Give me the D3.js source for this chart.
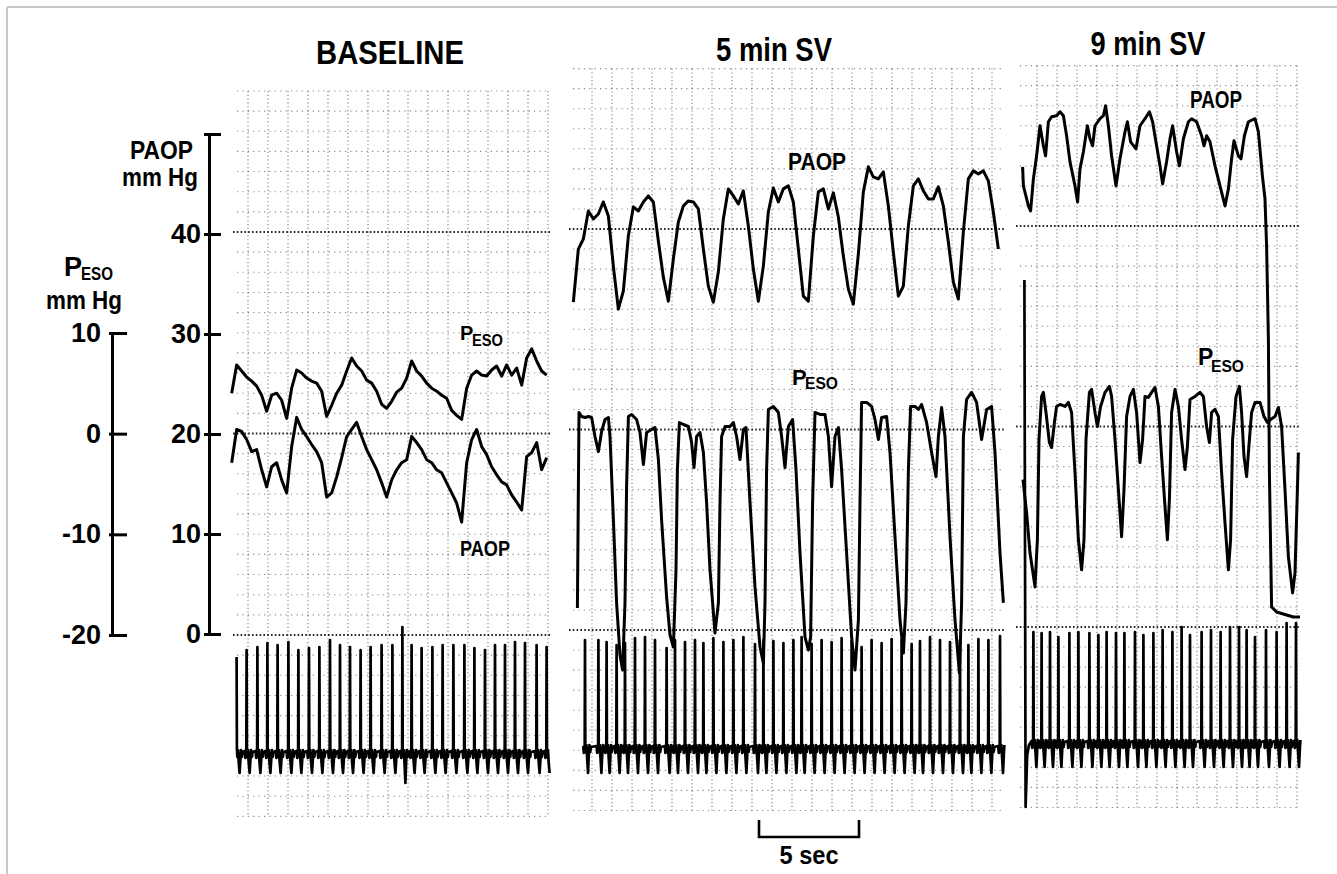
<!DOCTYPE html>
<html>
<head>
<meta charset="utf-8">
<script src="https://cdn.jsdelivr.net/npm/d3@7"></script>
<style>
  html, body { margin: 0; padding: 0; background: #fff; }
  svg { display: block; }
  text { font-family: "Liberation Sans", Arial, Helvetica, sans-serif; fill: #000; font-weight: 700; }
</style>
</head>
<body>
<svg id="chart" width="1337" height="874"></svg>
<script>
// ---------------- data ----------------
const panelTitles = ["BASELINE", "5 min SV", "9 min SV"];
const paopTicks = [0, 10, 20, 30, 40, 50];
const paopLabels = [0, 10, 20, 30, 40];
const pesoTicks = [-20, -10, 0, 10];
const refLevels = [0, 20, 40];          // dotted reference lines, PAOP mm Hg
const scaleBarSec = 5;

// Baseline: sampled every 0.25 s from t = 0.083 s
const baselineStart = 0.083;
const sampleStep = 0.25;
const baselinePeso = [4.0, 6.8, 6.2, 5.6, 5.2, 4.7, 3.8, 2.2, 3.8, 4.0, 3.3, 1.5, 4.5, 6.3, 6.0, 5.5,
  5.2, 5.0, 4.2, 1.7, 2.8, 4.0, 4.8, 6.2, 7.5, 6.7, 6.2, 5.3, 5.0, 4.2, 2.9, 2.5,
  3.2, 4.1, 4.5, 5.5, 7.2, 6.2, 5.7, 5.0, 4.5, 4.2, 3.8, 3.5, 2.3, 1.8, 1.4, 4.5,
  5.8, 6.2, 5.8, 5.7, 6.3, 6.7, 5.7, 6.8, 5.8, 6.5, 4.8, 7.5, 8.4, 7.2, 6.2, 5.8];
const baselinePaop = [17.1, 20.4, 20.2, 19.4, 18.2, 18.4, 16.4, 14.7, 16.7, 17.1, 15.4, 14.1, 18.7, 21.6, 20.4, 19.7,
  18.9, 18.2, 17.1, 13.7, 14.1, 15.7, 17.6, 19.7, 20.4, 21.1, 19.7, 18.4, 17.4, 16.4, 15.1, 13.7,
  15.4, 16.4, 17.1, 17.4, 19.7, 19.1, 18.4, 17.4, 17.1, 16.4, 16.1, 15.1, 14.1, 13.1, 11.2, 17.1,
  19.4, 20.4, 18.7, 17.9, 16.7, 15.9, 15.2, 14.9, 13.9, 13.2, 12.4, 17.7, 18.1, 19.1, 16.4, 17.6];

// 5 min SV: PAOP sampled every 0.25 s from t = 0.167 s
const sv5PaopStart = 0.167;
const sv5Paop = [32.7, 38.0, 39.0, 41.8, 41.0, 41.5, 42.7, 41.3, 36.3, 32.0,
  33.8, 39.3, 42.2, 41.8, 42.7, 43.3, 42.7, 38.8, 35.2, 32.8,
  37.0, 40.7, 42.3, 42.8, 42.7, 42.0, 38.0, 34.3, 32.7, 35.7,
  41.0, 44.0, 43.3, 42.5, 43.8, 40.3, 36.0, 32.8, 36.3, 41.7,
  44.1, 42.7, 44.0, 44.3, 42.7, 38.0, 33.3, 32.8, 39.3, 43.7,
  44.0, 42.0, 43.6, 41.2, 37.3, 34.0, 32.5, 37.5, 43.7, 46.2,
  45.2, 45.0, 45.7, 42.3, 37.7, 33.3, 34.3, 40.3, 44.3, 45.0,
  43.8, 43.0, 43.0, 44.2, 42.3, 38.7, 34.7, 33.0, 39.7, 45.0,
  45.8, 45.5, 45.8, 44.8, 41.7, 38.0];

// 5 min SV: esophageal pressure, [seconds, mm Hg]
const sv5Peso = [[0.37,-17.8],[0.45,1.7],[0.58,1.3],[0.75,1.2],[0.92,1.3],[1.08,1.2],[1.25,-0.7],[1.42,-2.2],[1.58,-0.2],[1.75,1.0],
  [1.92,1.2],[2.00,-0.7],[2.17,-9.0],[2.33,-17.3],[2.50,-22.5],[2.63,-24.0],[2.75,-17.3],[2.83,-5.7],[2.92,1.3],[3.08,1.5],
  [3.33,1.0],[3.50,-0.3],[3.67,-3.5],[3.83,-0.3],[4.08,0.0],[4.25,0.2],[4.42,-3.0],[4.58,-9.0],[4.83,-16.7],[5.00,-20.5],
  [5.17,-21.7],[5.30,-14.0],[5.37,-4.0],[5.47,0.7],[5.67,0.5],[5.92,0.3],[6.08,-1.3],[6.20,-3.8],[6.33,-0.7],[6.50,-0.3],
  [6.67,-2.3],[6.83,-7.3],[7.00,-14.0],[7.25,-20.3],[7.42,-17.3],[7.50,-7.3],[7.58,-0.7],[7.75,0.3],[8.00,0.3],[8.17,0.7],
  [8.33,-0.7],[8.50,-3.0],[8.67,0.0],[8.80,0.2],[9.00,-7.3],[9.25,-15.7],[9.50,-21.7],[9.67,-23.3],[9.75,-17.3],[9.83,-4.0],
  [9.92,2.0],[10.17,2.3],[10.42,1.7],[10.58,-0.7],[10.75,-3.8],[10.92,0.3],[11.13,1.0],[11.30,-4.0],[11.50,-12.3],[11.75,-20.7],
  [11.92,-22.0],[12.03,-20.7],[12.13,-7.3],[12.25,1.7],[12.50,1.5],[12.75,1.5],[12.92,-0.7],[13.08,-5.7],[13.25,-0.7],[13.42,0.2],
  [13.58,-4.0],[13.83,-12.3],[14.08,-20.7],[14.25,-24.0],[14.42,-19.0],[14.50,-7.3],[14.58,2.7],[14.83,2.7],[15.08,2.3],[15.25,1.0],
  [15.42,-1.0],[15.58,1.2],[15.83,1.3],[16.00,-2.3],[16.25,-10.7],[16.50,-19.0],[16.67,-22.3],[16.80,-17.3],[16.92,-4.0],[17.03,2.3],
  [17.25,2.3],[17.42,2.0],[17.58,2.5],[17.83,0.7],[18.08,-2.3],[18.30,-4.7],[18.42,-0.7],[18.58,2.2],[18.75,-0.7],[19.00,-10.7],
  [19.25,-19.0],[19.47,-24.3],[19.58,-17.3],[19.67,-0.7],[19.83,3.0],[20.08,3.7],[20.33,2.7],[20.58,-1.0],[20.83,2.0],[21.08,2.3],
  [21.25,-2.3],[21.50,-12.3],[21.67,-17.3]];

// 9 min SV: wedge pressure, [seconds, mm Hg]
const sv9Paop = [[0.63,45.9],[0.67,44.0],[0.92,42.0],[1.03,41.5],[1.17,44.7],[1.33,47.0],[1.50,50.0],[1.67,48.0],[1.78,47.0],[1.92,50.4],
  [2.08,50.9],[2.33,51.0],[2.50,51.4],[2.67,51.0],[2.83,49.0],[3.00,46.4],[3.25,44.0],[3.38,42.4],[3.50,45.7],[3.67,47.4],
  [3.87,50.0],[4.00,48.7],[4.13,48.0],[4.25,50.0],[4.50,50.7],[4.67,51.0],[4.78,52.0],[4.92,50.0],[5.08,47.0],[5.30,44.0],
  [5.50,46.7],[5.75,49.4],[5.87,50.4],[6.03,48.4],[6.30,47.7],[6.50,50.0],[6.75,50.7],[6.97,51.4],[7.13,50.4],[7.33,48.0],
  [7.50,46.0],[7.63,44.2],[7.83,46.4],[8.00,48.7],[8.13,50.0],[8.33,47.4],[8.47,46.0],[8.67,48.7],[8.92,50.4],[9.08,50.7],
  [9.33,50.4],[9.58,49.0],[9.70,48.0],[9.83,49.0],[10.00,48.4],[10.25,46.0],[10.50,44.0],[10.75,42.0],[10.92,43.7],[11.08,46.7],
  [11.20,48.5],[11.42,47.0],[11.55,46.7],[11.72,49.0],[11.92,50.4],[12.25,50.7],[12.42,49.4],[12.62,45.0],[12.75,42.7],[12.83,38.0],
  [12.92,28.7],[12.97,15.4],[13.08,2.0],[13.33,1.5],[13.83,1.2],[14.17,1.0],[14.50,1.0]];

// 9 min SV: esophageal pressure, [seconds, mm Hg]
const sv9Peso = [[0.65,-5.3],[0.83,-8.6],[1.00,-12.6],[1.25,-16.0],[1.37,-11.3],[1.45,-1.3],[1.58,3.0],[1.67,3.4],[1.80,1.4],[1.97,-1.6],
  [2.08,-2.1],[2.22,0.4],[2.33,2.0],[2.50,2.2],[2.75,2.0],[2.92,2.4],[3.08,1.4],[3.25,-4.6],[3.42,-11.3],[3.58,-14.3],
  [3.70,-11.3],[3.80,-1.3],[3.97,3.4],[4.08,3.7],[4.25,1.4],[4.37,0.0],[4.53,2.0],[4.75,3.4],[4.97,4.0],[5.08,3.0],
  [5.25,-1.3],[5.42,-6.3],[5.58,-11.0],[5.70,-6.3],[5.83,1.0],[6.00,3.0],[6.17,3.7],[6.33,1.4],[6.50,-3.6],[6.63,-1.3],
  [6.75,3.0],[6.92,2.9],[7.08,3.4],[7.25,3.9],[7.42,2.0],[7.58,-3.0],[7.75,-8.0],[7.87,-11.3],[7.97,-7.3],[8.08,1.4],
  [8.25,3.7],[8.42,2.0],[8.58,-1.3],[8.75,-4.3],[8.87,-2.0],[9.00,2.7],[9.25,3.0],[9.50,3.4],[9.67,3.0],[9.83,0.0],
  [9.97,-1.6],[10.08,1.4],[10.25,1.7],[10.42,1.0],[10.58,-4.6],[10.75,-9.6],[10.92,-14.3],[11.03,-11.3],[11.13,-1.3],[11.30,3.0],
  [11.47,4.0],[11.58,1.4],[11.70,-3.0],[11.83,-5.0],[11.97,-1.3],[12.08,1.4],[12.25,2.4],[12.50,2.4],[12.70,1.0],[12.87,0.4],
  [13.03,0.7],[13.25,1.0],[13.42,1.9],[13.58,0.0],[13.75,-6.3],[13.92,-13.0],[14.13,-16.6],[14.25,-14.6],[14.37,-6.3],[14.42,-2.6]];

// ECG beats: [R-wave time s, R amplitude, optional S depth]
const baselineBeats = [[0.33,9.8],[0.83,10.5],[1.37,10.8],[1.87,11.2],[2.38,11.0],[2.92,11.3],[3.42,10.5],[3.95,10.7],
  [4.47,10.8],[5.00,11.5],[5.50,11.0],[6.00,10.8],[6.53,10.5],[7.03,10.8],[7.58,11.0],[8.12,11.0],[8.62,12.8,-2.8],
  [9.08,11.0],[9.58,10.7],[10.12,10.8],[10.63,11.0],[11.17,11.0],[11.72,11.0],[12.22,10.7],[12.75,10.5],[13.25,11.0],
  [13.75,11.0],[14.25,11.3],[14.75,11.2],[15.33,11.0],[15.83,10.8]];
const sv5Beats = [[0.75,11.0],[1.42,11.0],[1.83,10.8],[2.33,10.5],[2.75,10.7],[3.25,11.2],[3.75,11.3],[4.25,11.0],
  [4.83,10.2],[5.25,11.0],[5.75,10.8],[6.25,11.0],[6.67,10.7],[7.17,11.2],[7.67,10.8],[8.17,11.0],[8.67,11.3],
  [9.25,10.6],[9.67,11.0],[10.17,10.9],[10.67,10.7],[11.17,11.0],[11.58,11.3],[12.08,10.6],[12.58,11.0],[13.08,10.8],
  [13.58,11.2],[14.08,10.9],[14.58,10.3],[15.08,11.0],[15.58,10.7],[16.08,11.1],[16.58,11.0],[17.08,10.6],[17.50,10.9],
  [18.00,11.3],[18.50,11.0],[19.00,10.8],[19.50,11.0],[19.92,10.5],[20.42,11.1],[20.92,11.0],[21.50,11.4]];
const sv9Beats = [[1.17,11.3],[1.58,11.2],[2.00,11.3],[2.42,10.8],[2.97,11.2],[3.42,11.3],[3.97,11.2],[4.42,11.0],
  [4.83,11.3],[5.30,11.2],[5.72,11.2],[6.25,11.3],[6.67,11.0],[7.17,11.2],[7.63,11.5],[8.12,11.3],[8.58,11.8],
  [9.00,11.0],[9.58,11.3],[10.05,11.5],[10.53,11.3],[11.00,11.8],[11.45,11.8],[11.83,11.5],[12.25,10.8],[12.80,11.5],
  [13.33,11.3],[13.83,12.2],[14.30,12.2]];
// pen stroke at the start of the 9 min strip
const sv9EcgLead = [[0.72,46.5],[0.78,-6.2],[0.86,-1.0],[0.95,0.0]];

// one ECG complex around its R wave: [offset s, amplitude]
const ecgBefore = [[-0.09, 0.4], [-0.06, -0.3], [-0.035, 0.4], [-0.015, 0.0]];
const ecgAfter = [[0.015, 0.6], [0.04, -0.2], [0.07, 0.5], [0.10, -0.6]];
const ecgSOffset = 0.15;
const ecgTail = [[0.19, -0.5], [0.22, 0.5], [0.26, -0.2], [0.30, 0.3]];

// ---------------- layout ----------------
const panels = [
  { title: panelTitles[0], titleX: 390, titleY: 64, titleW: 148,
    xDomain: [0, 16], xRange: [230, 550], yRange: [635, 232], ecgBase: 755,
    gridT: [0.35, 16.0], gridFirst: 0.9, gridV: [-18, 54],
    peso: baselinePeso.map((v, i) => [baselineStart + i * sampleStep, v]),
    paop: baselinePaop.map((v, i) => [baselineStart + i * sampleStep, v]),
    beats: baselineBeats, sDepth: -1.8, lead: null, ecgT: [0.33, 16.0],
    labels: { pesoP: [460, 340, 20], pesoSub: [472, 346, 16, 31], paop: [460, 556, 22, 50] } },
  { title: panelTitles[1], titleX: 774, titleY: 61, titleW: 116,
    xDomain: [0, 22], xRange: [570, 1010], yRange: [630, 229], ecgBase: 750,
    gridT: [0.15, 21.75], gridFirst: 1.1, gridV: [-18, 56],
    peso: sv5Peso,
    paop: sv5Paop.map((v, i) => [sv5PaopStart + i * sampleStep, v]),
    beats: sv5Beats, sDepth: -2.3, lead: null, ecgT: [0.5, 21.75],
    labels: { pesoP: [792, 385, 22], pesoSub: [805, 389, 16, 33], paop: [788, 170, 23, 58] } },
  { title: panelTitles[2], titleX: 1148, titleY: 55, titleW: 115,
    xDomain: [0, 15], xRange: [1010, 1310], yRange: [627, 226], ecgBase: 745,
    gridT: [0.5, 14.5], gridFirst: 1.35, gridV: [-18, 56],
    peso: sv9Peso, paop: sv9Paop,
    beats: sv9Beats, sDepth: -2.2, lead: sv9EcgLead, ecgT: [0.7, 14.55],
    labels: { pesoP: [1198, 365, 23], pesoSub: [1211, 372, 17, 33], paop: [1190, 108, 24, 52] } }
];

const svg = d3.select("#chart");

// page edge
svg.append("line").attr("x1", 7).attr("x2", 1337).attr("y1", 7).attr("y2", 7)
  .attr("stroke", "#c8c8c8").attr("stroke-width", 2);
svg.append("line").attr("x1", 7).attr("x2", 7).attr("y1", 7).attr("y2", 874)
  .attr("stroke", "#c8c8c8").attr("stroke-width", 2);

function ecgPoints(p) {
  const pts = p.lead ? p.lead.slice() : [];
  p.beats.forEach(b => {
    const t = b[0], r = b[1], s = b.length > 2 ? b[2] : p.sDepth;
    ecgBefore.forEach(d => pts.push([t + d[0], d[1]]));
    pts.push([t, r]);
    ecgAfter.forEach(d => pts.push([t + d[0], d[1]]));
    pts.push([t + ecgSOffset, s]);
    ecgTail.forEach(d => pts.push([t + d[0], d[1]]));
  });
  pts.sort((a, b) => a[0] - b[0]);
  return pts.filter(d => d[0] >= p.ecgT[0] && d[0] <= p.ecgT[1]);
}

panels.forEach(p => {
  const x = d3.scaleLinear().domain(p.xDomain).range(p.xRange);
  const yPaop = d3.scaleLinear().domain([0, 40]).range(p.yRange);
  const yPeso = d3.scaleLinear().domain([-20, 20]).range(p.yRange);
  const yEcg = d3.scaleLinear().domain([0, 10]).range([p.ecgBase, p.ecgBase - 100]);
  const g = svg.append("g");

  // chart paper grid
  const [gx0, gx1] = [x(p.gridT[0]), x(p.gridT[1])];
  const [gy0, gy1] = [yPaop(p.gridV[0]), yPaop(p.gridV[1])];
  const vGrid = g.append("g").attr("stroke", "#000").attr("stroke-width", 1.1)
    .attr("stroke-dasharray", "1.2,2.6").attr("opacity", 0.5);
  d3.range(p.gridFirst, p.gridT[1], 1).forEach(t => {
    vGrid.append("line").attr("x1", x(t)).attr("x2", x(t)).attr("y1", gy1).attr("y2", gy0);
  });
  const hGrid = g.append("g").attr("stroke", "#000").attr("stroke-width", 1.1)
    .attr("stroke-dasharray", "1.2,4.2").attr("opacity", 0.45);
  d3.range(p.gridV[0], p.gridV[1] + 0.01, 2).filter(v => !refLevels.includes(v)).forEach(v => {
    hGrid.append("line").attr("x1", gx0).attr("x2", gx1).attr("y1", yPaop(v)).attr("y2", yPaop(v));
  });
  // heavy dotted reference levels
  refLevels.forEach(v => {
    g.append("line").attr("x1", gx0 - 4).attr("x2", gx1)
      .attr("y1", yPaop(v)).attr("y2", yPaop(v))
      .attr("stroke", "#000").attr("stroke-width", 1.9)
      .attr("stroke-dasharray", "1.6,2.2").attr("opacity", 0.85);
  });

  // traces
  const trace = (scale) => d3.line().x(d => x(d[0])).y(d => scale(d[1]));
  g.append("path").datum(p.paop).attr("d", trace(yPaop))
    .attr("fill", "none").attr("stroke", "#000").attr("stroke-width", 3).attr("stroke-linejoin", "round");
  g.append("path").datum(p.peso).attr("d", trace(yPeso))
    .attr("fill", "none").attr("stroke", "#000").attr("stroke-width", 3).attr("stroke-linejoin", "round");
  g.append("path").datum(ecgPoints(p)).attr("d", trace(yEcg))
    .attr("fill", "none").attr("stroke", "#000").attr("stroke-width", 2.7).attr("stroke-linejoin", "round");

  // titles and trace labels
  g.append("text").attr("x", p.titleX).attr("y", p.titleY).attr("text-anchor", "middle")
    .attr("font-size", 33).attr("textLength", p.titleW).attr("lengthAdjust", "spacingAndGlyphs")
    .text(p.title);
  const L = p.labels;
  g.append("text").attr("x", L.pesoP[0]).attr("y", L.pesoP[1]).attr("font-size", L.pesoP[2]).text("P");
  g.append("text").attr("x", L.pesoSub[0]).attr("y", L.pesoSub[1]).attr("font-size", L.pesoSub[2])
    .attr("textLength", L.pesoSub[3]).attr("lengthAdjust", "spacingAndGlyphs").text("ESO");
  g.append("text").attr("x", L.paop[0]).attr("y", L.paop[1]).attr("font-size", L.paop[2])
    .attr("textLength", L.paop[3]).attr("lengthAdjust", "spacingAndGlyphs").text("PAOP");

  // 5 s time bar under the middle strip
  if (p.title === panelTitles[1]) {
    const t0 = 9.45;
    g.append("path")
      .attr("d", `M${x(t0)},820V837H${x(t0 + scaleBarSec)}V820`)
      .attr("fill", "none").attr("stroke", "#000").attr("stroke-width", 2.6);
    g.append("text").attr("x", (x(t0) + x(t0 + scaleBarSec)) / 2).attr("y", 864)
      .attr("text-anchor", "middle").attr("font-size", 26)
      .attr("textLength", 59).attr("lengthAdjust", "spacingAndGlyphs")
      .text(`${scaleBarSec} sec`);
  }
});

// ---------------- left axes ----------------
function styleAxis(sel, stub) {
  sel.attr("font-family", null).attr("font-size", null);
  sel.select(".domain").attr("stroke", "#000").attr("stroke-width", 3);
  sel.selectAll(".tick line").attr("stroke", "#000").attr("stroke-width", 3).attr("x1", -stub);
  sel.selectAll(".tick text").attr("font-size", 27).attr("fill", "#000");
}

const paopAxisScale = d3.scaleLinear().domain([0, 50]).range([634, 134]);
svg.append("g").attr("transform", "translate(209,0)")
  .call(d3.axisLeft(paopAxisScale).tickValues(paopTicks).tickSize(-12).tickSizeOuter(0)
    .tickPadding(8).tickFormat(d => paopLabels.includes(d) ? d : ""))
  .call(s => styleAxis(s, 5));

const pesoAxisScale = d3.scaleLinear().domain([-20, 10]).range([635, 333]);
svg.append("g").attr("transform", "translate(112,0)")
  .call(d3.axisLeft(pesoAxisScale).tickValues(pesoTicks).tickSize(-15).tickSizeOuter(0)
    .tickPadding(11).tickFormat(d => d))
  .call(s => styleAxis(s, 3));

// axis titles
svg.append("text").attr("x", 130).attr("y", 159).attr("font-size", 26)
  .attr("textLength", 63).attr("lengthAdjust", "spacingAndGlyphs").text("PAOP");
svg.append("text").attr("x", 122).attr("y", 186).attr("font-size", 26)
  .attr("textLength", 76).attr("lengthAdjust", "spacingAndGlyphs").text("mm Hg");
svg.append("text").attr("x", 64).attr("y", 276).attr("font-size", 27).text("P");
svg.append("text").attr("x", 81).attr("y", 280).attr("font-size", 18)
  .attr("textLength", 32).attr("lengthAdjust", "spacingAndGlyphs").text("ESO");
svg.append("text").attr("x", 46).attr("y", 309).attr("font-size", 25)
  .attr("textLength", 76).attr("lengthAdjust", "spacingAndGlyphs").text("mm Hg");
</script>
</body>
</html>
